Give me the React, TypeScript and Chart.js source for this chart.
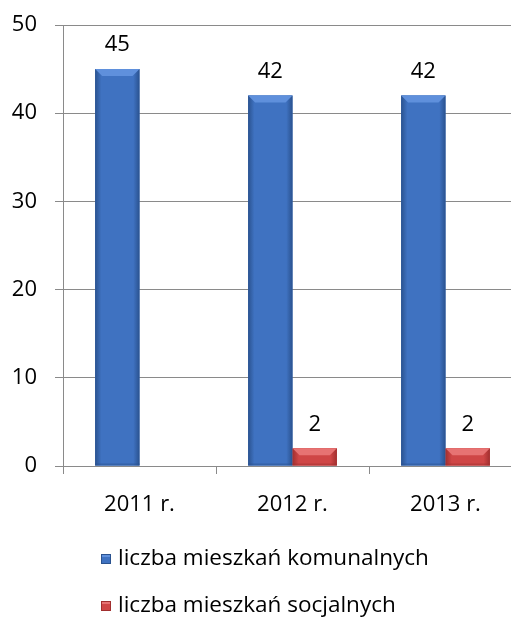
import React, { useEffect, useRef } from "react";
import { Chart, registerables } from "chart.js";

Chart.register(...registerables);

const categories = ["2011 r.", "2012 r.", "2013 r."];
const komunalne = [45, 42, 42];
const socjalne: (number | null)[] = [null, 2, 2];
const seriesNames = ["liczba mieszkań komunalnych", "liczba mieszkań socjalnych"];
const yTicks = [0, 10, 20, 30, 40, 50];

const FONT = "'Open Sans', Lato, sans-serif";
const GRID = "#8a8a8a";
const BLUE = "#3f72c1";
const BLUE_EDGE = "#2a528f";
const BLUE_LIGHT = "#5f90dc";
const RED = "#cf4646";
const RED_EDGE = "#a12f2f";
const RED_LIGHT = "#e77373";

const bevel = {
  id: "bevel",
  afterDatasetsDraw(chart: any) {
    const ctx = chart.ctx;
    ctx.save();
    chart.data.datasets.forEach((ds: any, i: number) => {
      const meta = chart.getDatasetMeta(i);
      const mid = ds.backgroundColor;
      const edge = i === 0 ? BLUE_EDGE : RED_EDGE;
      const light = i === 0 ? BLUE_LIGHT : RED_LIGHT;
      meta.data.forEach((el: any, j: number) => {
        if (ds.data[j] === null || ds.data[j] === undefined) return;
        const w = el.width;
        const l = el.x - w / 2;
        const r = el.x + w / 2;
        const t = el.y;
        const b = el.base;
        const g = ctx.createLinearGradient(l, 0, r, 0);
        g.addColorStop(0, edge);
        g.addColorStop(0.14, mid);
        g.addColorStop(0.5, mid);
        g.addColorStop(0.86, mid);
        g.addColorStop(1, edge);
        ctx.fillStyle = g;
        ctx.fillRect(l, t, w, b - t);
        const bh = Math.min(7, (b - t) / 2);
        ctx.fillStyle = light;
        ctx.beginPath();
        ctx.moveTo(l, t);
        ctx.lineTo(r, t);
        ctx.lineTo(r - 7, t + bh);
        ctx.lineTo(l + 7, t + bh);
        ctx.closePath();
        ctx.fill();
        ctx.fillStyle = edge;
        ctx.globalAlpha = 0.5;
        ctx.fillRect(l, b - 2, w, 2);
        ctx.globalAlpha = 1;
      });
    });
    ctx.restore();
  },
};

const valueLabels = {
  id: "valueLabels",
  afterDatasetsDraw(chart: any) {
    const ctx = chart.ctx;
    ctx.save();
    ctx.font = `22px ${FONT}`;
    ctx.fillStyle = "#000";
    ctx.textAlign = "center";
    ctx.textBaseline = "middle";
    chart.data.datasets.forEach((ds: any, i: number) => {
      const meta = chart.getDatasetMeta(i);
      meta.data.forEach((el: any, j: number) => {
        const v = ds.data[j];
        if (v === null || v === undefined) return;
        ctx.fillText(String(v), el.x, el.y - 24);
      });
    });
    ctx.restore();
  },
};

const customLegend = {
  id: "customLegend",
  afterDraw(chart: any) {
    const ctx = chart.ctx;
    ctx.save();
    ctx.font = `22.5px ${FONT}`;
    ctx.textAlign = "left";
    ctx.textBaseline = "middle";
    const ys = [559, 606];
    chart.data.datasets.forEach((ds: any, i: number) => {
      const y = ys[i];
      const edge = i === 0 ? BLUE_EDGE : RED_EDGE;
      const light = i === 0 ? BLUE_LIGHT : RED_LIGHT;
      ctx.fillStyle = ds.backgroundColor;
      ctx.fillRect(101, y - 5, 10, 10);
      ctx.fillStyle = light;
      ctx.fillRect(101, y - 5, 10, 3);
      ctx.strokeStyle = edge;
      ctx.lineWidth = 1;
      ctx.strokeRect(101.5, y - 4.5, 9, 9);
      ctx.fillStyle = "#000";
      ctx.fillText(ds.label, 118, y);
    });
    ctx.restore();
  },
};

export default function App() {
  const ref = useRef<HTMLCanvasElement>(null);
  useEffect(() => {
    if (!ref.current) return;
    const chart = new Chart(ref.current, {
      type: "bar",
      data: {
        labels: categories,
        datasets: [
          {
            label: seriesNames[0],
            data: komunalne,
            backgroundColor: BLUE,
            borderWidth: 0,
            categoryPercentage: 0.58,
            barPercentage: 1,
          },
          {
            label: seriesNames[1],
            data: socjalne,
            backgroundColor: RED,
            borderWidth: 0,
            categoryPercentage: 0.58,
            barPercentage: 1,
          },
        ],
      },
      options: {
        responsive: false,
        animation: false,
        devicePixelRatio: 1,
        layout: { padding: { top: 25, right: 8, bottom: 105, left: 0 } },
        plugins: {
          legend: { display: false },
          tooltip: { enabled: false },
        },
        scales: {
          x: {
            afterFit: (s: any) => {
              s.height = 50;
              s.paddingLeft = 0;
              s.paddingRight = 0;
            },
            grid: {
              offset: true,
              drawOnChartArea: false,
              drawTicks: true,
              tickLength: 8,
              color: GRID,
            },
            border: { color: GRID },
            ticks: {
              color: "#000",
              font: { family: FONT, size: 22 },
              padding: 18,
            },
          },
          y: {
            min: 0,
            max: 50,
            afterFit: (s: any) => {
              s.width = 63;
              s.paddingTop = 0;
              s.paddingBottom = 0;
            },
            afterBuildTicks: (s: any) => {
              s.ticks = yTicks.map((v) => ({ value: v }));
            },
            grid: {
              color: GRID,
              drawTicks: true,
              tickLength: 8,
            },
            border: { color: GRID },
            ticks: {
              color: "#000",
              font: { family: FONT, size: 22 },
              padding: 18,
            },
          },
        },
      },
      plugins: [bevel, valueLabels, customLegend],
    });
    return () => chart.destroy();
  }, []);
  return (
    <div
      style={{
        position: "fixed",
        left: 0,
        top: 0,
        width: 511,
        height: 621,
        overflow: "hidden",
        background: "#fff",
      }}
    >
      <canvas ref={ref} width={530} height={621} style={{ display: "block" }} />
    </div>
  );
}
